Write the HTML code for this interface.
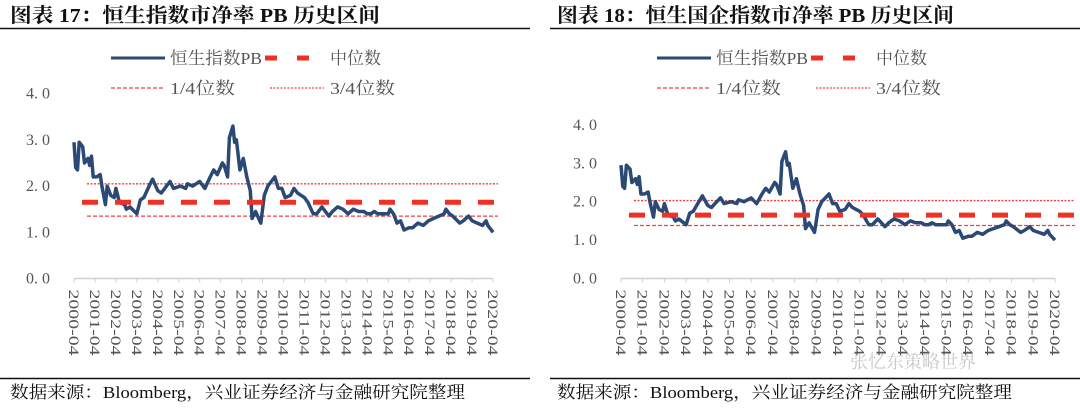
<!DOCTYPE html>
<html><head><meta charset="utf-8">
<style>
html,body{margin:0;padding:0;background:#fff;}
svg{display:block;font-family:"Liberation Serif","Noto Serif CJK SC",serif;}
</style></head>
<body>
<svg id="svg" width="1080" height="409" viewBox="0 0 1080 409">
  <text x="10" y="22" font-size="20" font-weight="bold" fill="#111" textLength="370" lengthAdjust="spacingAndGlyphs">图表 17：恒生指数市净率 PB 历史区间</text>
  <text x="557" y="22" font-size="20" font-weight="bold" fill="#111" textLength="397" lengthAdjust="spacingAndGlyphs">图表 18：恒生国企指数市净率 PB 历史区间</text>
  <line x1="0" y1="28.5" x2="530" y2="28.5" stroke="#111" stroke-width="1.5"/>
  <line x1="550" y1="28.5" x2="1080" y2="28.5" stroke="#111" stroke-width="1.5"/>
  <line x1="0" y1="378.5" x2="530" y2="378.5" stroke="#111" stroke-width="1.5"/>
  <line x1="550" y1="378.5" x2="1080" y2="378.5" stroke="#111" stroke-width="1.5"/>
  <text x="10" y="398" font-size="17" fill="#111" textLength="455" lengthAdjust="spacingAndGlyphs">数据来源：Bloomberg，兴业证券经济与金融研究院整理</text>
  <text x="557" y="398" font-size="17" fill="#111" textLength="455" lengthAdjust="spacingAndGlyphs">数据来源：Bloomberg，兴业证券经济与金融研究院整理</text>
  <text x="850" y="368" font-size="18" fill="#bbb" opacity="0.8">张忆东策略世界</text>
</svg>
<script>
// month index since 2000-04 and PB values
const months = [0,1,2,3,5,6,8,9,10,11,13,15,16,18,19,21,23,24,26,29,30,32,36,38,40,43,45,48,50,53,55,57,61,64,65,68,72,75,78,80,82,85,86,88,89,91,92,93,95,97,99,101,102,104,107,109,111,113,115,117,119,121,124,126,128,130,132,134,137,139,142,144,146,148,151,154,157,160,163,166,168,170,172,174,177,180,181,183,185,187,189,192,194,197,200,203,206,209,212,213,215,217,221,223,226,228,231,234,236,237,239,240];
const hsiPB = [2.95,2.4,2.35,2.95,2.85,2.5,2.6,2.45,2.65,2.2,2.2,2.25,2.0,1.6,2.0,1.8,1.75,1.95,1.65,1.6,1.5,1.55,1.4,1.7,1.75,2.0,2.15,1.9,1.85,2.0,2.1,1.95,2.0,1.95,2.05,2.0,2.1,1.95,2.2,2.35,2.25,2.5,2.45,2.2,3.05,3.3,2.95,3.0,2.35,2.6,2.2,1.9,1.3,1.45,1.2,1.8,2.0,2.1,2.2,1.95,1.95,1.75,1.8,1.95,1.85,1.8,1.75,1.65,1.4,1.4,1.55,1.45,1.35,1.45,1.55,1.5,1.4,1.5,1.45,1.45,1.4,1.4,1.45,1.4,1.4,1.4,1.5,1.4,1.2,1.25,1.05,1.1,1.1,1.2,1.15,1.25,1.3,1.35,1.4,1.5,1.4,1.35,1.2,1.25,1.35,1.25,1.2,1.15,1.25,1.15,1.05,1.0];
const hsceiPB = [2.95,2.4,2.35,2.95,2.85,2.5,2.6,2.45,2.65,2.2,2.2,2.25,2.0,1.6,2.0,1.8,1.75,1.95,1.65,1.6,1.5,1.55,1.4,1.7,1.75,2.0,2.15,1.9,1.85,2.0,2.1,1.95,2.0,1.95,2.05,2.0,2.1,1.95,2.2,2.35,2.25,2.5,2.45,2.2,3.05,3.3,2.95,3.0,2.35,2.6,2.2,1.9,1.3,1.45,1.2,1.8,2.0,2.1,2.2,1.95,1.95,1.75,1.8,1.95,1.85,1.8,1.75,1.65,1.4,1.4,1.55,1.45,1.35,1.45,1.55,1.5,1.4,1.5,1.45,1.45,1.4,1.4,1.45,1.4,1.4,1.4,1.5,1.4,1.2,1.25,1.05,1.1,1.1,1.2,1.15,1.25,1.3,1.35,1.4,1.5,1.4,1.35,1.2,1.25,1.35,1.25,1.2,1.15,1.25,1.15,1.05,1.0];
const refLevels = [1.65, 1.35, 2.05]; // median, Q1, Q3
const hsceiRef = [1.65, 1.38, 2.03];
const xLabels = ["2000-04","2001-04","2002-04","2003-04","2004-04","2005-04","2006-04","2007-04","2008-04","2009-04","2010-04","2011-04","2012-04","2013-04","2014-04","2015-04","2016-04","2017-04","2018-04","2019-04","2020-04"];
const yTicks = ["0. 0","1. 0","2. 0","3. 0","4. 0"];

const NS="http://www.w3.org/2000/svg";
const svg=document.getElementById('svg');
function mk(tag,attrs,parent){const e=document.createElementNS(NS,tag);for(const k in attrs)e.setAttribute(k,attrs[k]);(parent||svg).appendChild(e);return e;}

function drawChart(id,cfg,vals,ref,nameA){
  const g=mk('g',{});
  
  
  const xs=m=>cfg.x0+(cfg.x1-cfg.x0)*m/240;
  const ys=v=>cfg.y0-v*cfg.unit;
  yTicks.forEach((t,i)=>{
    const tx=mk('text',{x:cfg.yl,y:ys(i)+5,'font-size':16,fill:'#555','text-anchor':'end'},g);
    tx.textContent=t;
    
    
  });
  const ax=mk('line',{x1:cfg.x0,y1:cfg.y0,x2:cfg.x1,y2:cfg.y0,stroke:'#d0d0d0','stroke-width':1.5},g);
  
  
  xLabels.forEach((t,i)=>{
    const x=cfg.x0+(cfg.x1-cfg.x0)*i/(xLabels.length-1);
    const tk=mk('line',{x1:x,y1:cfg.y0,x2:x,y2:cfg.y0+4,stroke:'#d0d0d0','stroke-width':1},g);
    
    
    const tx=mk('text',{x:0,y:0,'font-size':15,fill:'#555',transform:`translate(${x-5},${cfg.y0+11}) rotate(90)`,textLength:66,lengthAdjust:'spacingAndGlyphs'},g);
    tx.textContent=t;
    
    
  });
  const q3=mk('line',{x1:cfg.x0+13,y1:ys(ref[2]),x2:cfg.x1+cfg.ext,y2:ys(ref[2]),stroke:'#f04040','stroke-width':1.3,'stroke-dasharray':'2 1.5'},g);
  
  
  const q1=mk('line',{x1:cfg.x0+13,y1:ys(ref[1]),x2:cfg.x1+cfg.ext,y2:ys(ref[1]),stroke:'#f04040','stroke-width':1.3,'stroke-dasharray':'4 2'},g);
  
  
  let d='';
  months.forEach((m,i)=>{d+=(i?'L':'M')+xs(m).toFixed(1)+' '+ys(vals[i]).toFixed(1);});
  const p=mk('path',{d:d,fill:'none',stroke:'#2a4a75','stroke-width':3.5,'stroke-linejoin':'round'},g);
  
  
  const md=mk('line',{x1:cfg.x0+8,y1:ys(ref[0]),x2:cfg.x1+cfg.ext,y2:ys(ref[0]),stroke:'#ee3124','stroke-width':5,'stroke-dasharray':'16 17'},g);
  
  
  const L=cfg.lx;
  const l1=mk('line',{x1:L,y1:58,x2:L+54,y2:58,stroke:'#2a4a75','stroke-width':3},g);
  
  
  const t1=mk('text',{x:L+59,y:64,'font-size':17,fill:'#555',textLength:92,lengthAdjust:'spacingAndGlyphs'},g);t1.textContent='恒生指数PB';
  
  
  const l2=mk('line',{x1:L+154,y1:58,x2:L+206,y2:58,stroke:'#ee3124','stroke-width':5,'stroke-dasharray':'12 20'},g);
  
  
  const t2=mk('text',{x:L+219,y:64,'font-size':17,fill:'#555'},g);t2.textContent='中位数';
  
  
  const l3=mk('line',{x1:L,y1:88,x2:L+54,y2:88,stroke:'#f04040','stroke-width':1.3,'stroke-dasharray':'4 2'},g);
  
  
  const t3=mk('text',{x:L+59,y:94,'font-size':17,fill:'#555',textLength:65,lengthAdjust:'spacingAndGlyphs'},g);t3.textContent='1/4位数';
  
  
  const l4=mk('line',{x1:L+159,y1:88,x2:L+213,y2:88,stroke:'#f04040','stroke-width':1.3,'stroke-dasharray':'2 1.5'},g);
  
  
  const t4=mk('text',{x:L+219,y:94,'font-size':17,fill:'#555',textLength:65,lengthAdjust:'spacingAndGlyphs'},g);t4.textContent='3/4位数';
  
  
}
drawChart('hsi',{x0:74,x1:493,y0:278.5,unit:46.2,yl:50,lx:111,ext:5},hsiPB,refLevels,'hsi-pb');
drawChart('hscei',{x0:621,x1:1055,y0:278.5,unit:38.4,yl:597,lx:657,ext:20},hsceiPB,hsceiRef,'hscei-pb');
</script>
</body></html>
